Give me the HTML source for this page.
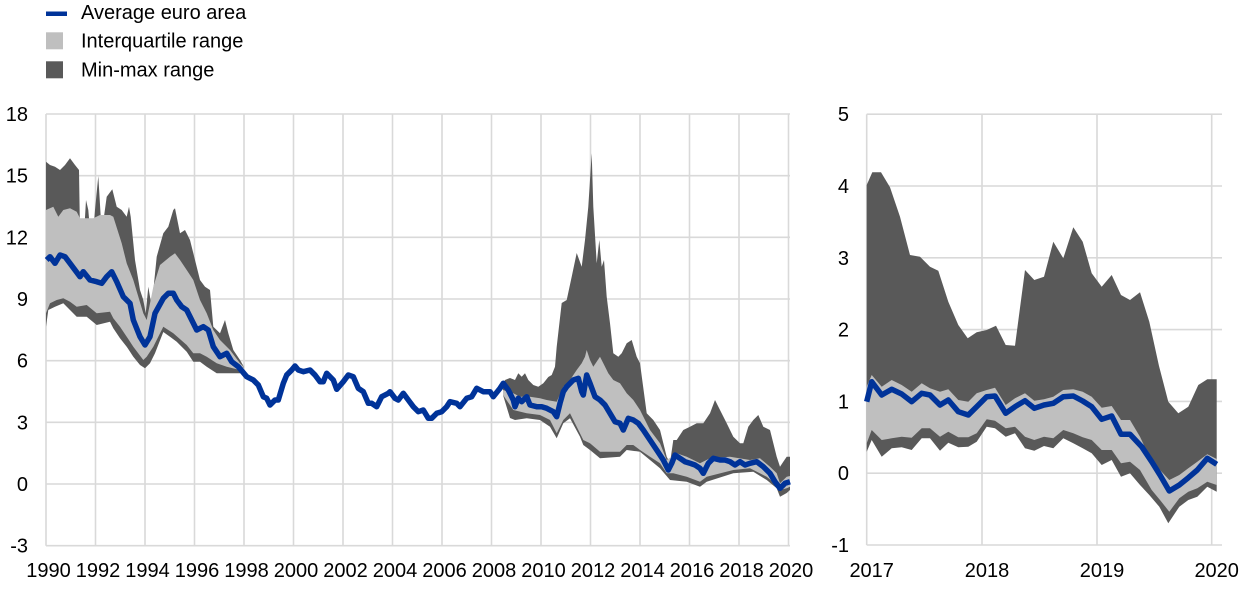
<!DOCTYPE html>
<html>
<head>
<meta charset="utf-8">
<style>
html,body{margin:0;padding:0;background:#fff;}
body{width:1240px;height:591px;overflow:hidden;}
svg{display:block;}
text{font-family:"Liberation Sans",Arial,sans-serif;font-size:20px;fill:#000;}
</style>
</head>
<body>
<svg width="1240" height="591" viewBox="0 0 1240 591" xmlns="http://www.w3.org/2000/svg">
<!-- Legend -->
<rect x="46" y="11.5" width="21" height="4.5" fill="#003399"/>
<text x="81" y="19">Average euro area</text>
<rect x="46" y="32.3" width="17" height="17" fill="#bfbfbf"/>
<text x="81" y="47.7">Interquartile range</text>
<rect x="46" y="61.3" width="17" height="17" fill="#595959"/>
<text x="81" y="76.7">Min-max range</text>

<!-- LEFT CHART GRID -->
<g stroke="#d9d9d9" stroke-width="1.6" fill="none">
<line x1="46" y1="114" x2="790" y2="114"/>
<line x1="46" y1="175.7" x2="790" y2="175.7"/>
<line x1="46" y1="237.3" x2="790" y2="237.3"/>
<line x1="46" y1="299" x2="790" y2="299"/>
<line x1="46" y1="360.7" x2="790" y2="360.7"/>
<line x1="46" y1="422.3" x2="790" y2="422.3"/>
<line x1="46" y1="484" x2="790" y2="484"/>
<line x1="46" y1="545.7" x2="790" y2="545.7"/>
<line x1="46" y1="114" x2="46" y2="545.7"/>
<line x1="95.5" y1="114" x2="95.5" y2="545.7"/>
<line x1="145" y1="114" x2="145" y2="545.7"/>
<line x1="194.5" y1="114" x2="194.5" y2="545.7"/>
<line x1="244" y1="114" x2="244" y2="545.7"/>
<line x1="293.5" y1="114" x2="293.5" y2="545.7"/>
<line x1="343" y1="114" x2="343" y2="545.7"/>
<line x1="392.5" y1="114" x2="392.5" y2="545.7"/>
<line x1="442" y1="114" x2="442" y2="545.7"/>
<line x1="491.5" y1="114" x2="491.5" y2="545.7"/>
<line x1="541" y1="114" x2="541" y2="545.7"/>
<line x1="590.5" y1="114" x2="590.5" y2="545.7"/>
<line x1="640" y1="114" x2="640" y2="545.7"/>
<line x1="689.5" y1="114" x2="689.5" y2="545.7"/>
<line x1="739" y1="114" x2="739" y2="545.7"/>
<line x1="788.5" y1="114" x2="788.5" y2="545.7"/>
</g>

<!-- LEFT CHART AREAS -->
<polygon fill="#595959" points="46,161.7 50,165 55,166.7 60,170 65,165 70,158.3 75,165 79,170 80,233.3 83.3,246.7 86,200 88.3,210 91.7,250 95,210 98.3,176 101.7,233.3 106.7,196.7 112.3,189.3 116.7,206.7 121.7,210 126.7,216.7 129,206.7 130.7,216.7 135,260 140,290 143.3,300 145.7,313.3 148.3,286.7 151.7,306.7 156.7,256.7 163.3,233.3 168.3,226.7 173.3,210 175,208.3 180,233.3 185,230 190,240 195,260 200,280 205,286.7 210,290 213.3,326.7 220,333.3 225,320 228.3,333.3 233.3,350 240,360 244,367 240,373.3 226.7,373.3 216.7,373.3 206.7,366.7 200,361.7 193.3,361.7 186.7,351.7 176.7,341.7 170,336.7 163.3,332 155,353.3 150,363.3 145,368.3 140,365 133.3,356.7 126.7,346.7 120,338.3 113.3,328.3 110,321.7 96.7,325 86.7,316.7 76.7,316.7 70,310 63.3,303.3 55,306.7 48.3,310 46,326.7"/>
<polygon fill="#bfbfbf" points="46,210 53.3,206.7 58.3,216.7 63.3,210 70,208.3 76.7,211.7 80,218.3 93.3,218.3 100,215 110,215 113.3,216.7 121.7,243.3 126.7,263.3 133.3,280 143.3,313.3 146.7,320 153.3,286.7 160,265 170,256.7 175,253.3 180,260 186.7,270 193.3,280 200,300 206.7,313.3 213.3,330 220,340 230,350 240,363.3 244,367 240,370 226.7,366.7 216.7,363.3 206.7,356.7 200,353.3 193.3,353.3 186.7,345 173.3,333.3 163.3,326.7 153.3,346.7 146.7,356.7 143.3,360 133.3,346.7 126.7,336.7 120,326.7 113.3,318.3 110,311.7 96.7,313.3 86.7,305 76.7,306.7 70,301.7 63.3,298.3 56.7,300 50,303.3 46,313.3"/>

<polygon fill="#595959" points="503,385 505,380 510,378 515,380 518.3,373.3 521.7,376.7 525,373.3 528.3,380 533.3,385 538.3,386.7 543.3,383.3 548.3,377 551.7,375 555,366.7 556.7,346.7 561.7,303 566.7,300 571.7,276.7 576.7,253 581.7,266.7 585,240 588.3,206.7 591.7,153.3 593.3,206.7 596.7,263.3 599.3,240 601.7,266.7 604,260 606.7,296.7 610,323.3 613.3,353.3 618.3,356.7 621.7,353.3 626.7,343.3 631.7,340 636.7,356.7 640,363.3 646.7,413.3 653.3,420 660,430 666.7,456.7 670,463 673.3,440 676.7,440 683.3,430 690,426.7 696.7,423.3 703.3,423.3 710,413.3 715,400 720,410 726.7,423.3 733.3,436.7 740,443.3 743.3,443.3 748.3,426.7 753.3,420 758.3,415 763.3,426.7 770,430 776.7,456.7 780,466.7 783.3,461.7 786.7,456.7 790,456.7 790,490 786.7,493 780,496.7 776.7,488.3 766.7,480 753.3,471.7 733.3,473.3 706.7,481.7 700,486.7 686.7,481.7 670,480 660,468.3 650,460 640,451.7 626.7,450 620,456.7 600,458.3 590,450 583.3,445 580,436.7 570,418.3 563.3,423.3 556.7,438.3 550,426.7 540,420 526.7,418.3 515,420 510,418 503,395"/>
<polygon fill="#bfbfbf" points="503,390 513.3,393.3 520,396.7 530,396.7 540,398.3 546.7,400 556.7,401.7 563.3,386.7 570,380 576.7,370 581.7,363.3 585,356.7 586.7,350 590,360 593.3,366.7 600,356.7 603.3,363.3 608.3,373.3 613.3,380 620,383.3 626.7,393.3 633.3,400 640,410 650,430 660,443.3 666.7,460 676.7,453.3 686.7,456.7 700,463.3 710,458.3 730,456.7 750,460 760,458.3 770,466.7 776.7,473.3 780,483.3 786.7,476.7 790,476 790,486.7 786.7,488.3 780,490 776.7,485 766.7,476.7 750,468.3 733.3,470 706.7,476.7 700,481.7 686.7,476.7 673.3,473.3 666.7,473.3 660,463.3 650,456.7 640,450 633.3,445 626.7,445 620,451.7 610,451.7 600,451.7 590,443.3 583.3,440 576.7,426.7 570,413.3 563.3,420 556.7,433.3 550,420 540,415 526.7,413.3 513.3,410 503,395"/>

<!-- LEFT AVERAGE LINE -->
<polyline fill="none" stroke="#003399" stroke-width="5.5" stroke-linejoin="round" points="46.7,260 50,256.7 55,263.3 60,255 65,256.7 70,263.3 80,276.7 83.3,271.7 90,280 96.7,281.7 101.7,283.3 106.7,276.7 111.7,271.7 116.7,281.7 123.3,296.7 130,303.3 133.3,320 140,336.7 145,345 150,336.7 155,313.3 163.3,298.3 168.3,293.3 173.3,293.3 176.7,300 181.7,306.7 186.7,310 191.7,320 196.7,330 203.3,326.7 208.3,330 213.3,346.7 220,356.7 226.7,353.3 231.7,361.7 238.3,366.7 246.7,376.7 253.3,380 258.3,385 263.3,396.7 266.7,398.3 270,405 275,400 278.3,400 283.3,383.3 286.7,375 291.7,370 295,366 298.3,370 303.3,371.7 310,370 315,375 320,381.7 323.3,381.7 326.7,373.3 333.3,380 336.7,389.3 343.3,381.7 348.3,375 353.3,376.7 358.3,388.3 363.3,391.7 368.3,403.3 371.7,403.3 376.7,406.7 381.7,396.7 388.3,393.3 390,391.7 395,398.3 398.3,400 403.3,393.3 408.3,400 413.3,406.7 418.3,411.7 423.3,410 428.3,418.3 431.7,418.3 436.7,413.3 441.7,411.7 446.7,406.7 450,401.7 456.7,403.3 460,406.7 466.7,398.3 471.7,396.7 476.7,388.3 483.3,391.7 490,391.7 493.3,396.7 500,388.3 503.3,383.3 508.3,390 513.3,400 515,406.7 518.3,398.3 521.7,401.7 526.7,396.7 530,405 536.7,406.7 541.7,406.7 546.7,408.3 553.3,411.7 556.7,416.7 560,403.3 563.3,391.7 566.7,386.7 573.3,380 578.3,378.3 581.7,391.7 583.3,395 586.7,375 590,383.3 595,396.7 600,400 605,405 610,413.3 615,421.7 620,423.3 623.3,430 628.3,418.3 633.3,420 638.3,423.3 643.3,430 650,440 656.7,450 663.3,460 668.3,470 671.7,463.3 675,455 680,458.3 685,461.7 690,463.3 695,465 700,468.3 703.3,473.3 708.3,463.3 713.3,458.3 720,460 725,460 730,461.7 735,465 740,461.7 745,465 750,463.3 756.7,461.7 763.3,466.7 770,473.3 775,481.7 780,488.3 785,483.3 790,481.7"/>

<!-- LEFT AXIS LABELS -->
<g text-anchor="end">
<text x="28" y="121">18</text>
<text x="28" y="182.7">15</text>
<text x="28" y="244.3">12</text>
<text x="28" y="306">9</text>
<text x="28" y="367.7">6</text>
<text x="28" y="429.3">3</text>
<text x="28" y="491">0</text>
<text x="28" y="552.7">-3</text>
</g>
<g text-anchor="middle">
<text x="48.5" y="577">1990</text>
<text x="98" y="577">1992</text>
<text x="147.5" y="577">1994</text>
<text x="197" y="577">1996</text>
<text x="246.5" y="577">1998</text>
<text x="296" y="577">2000</text>
<text x="345.5" y="577">2002</text>
<text x="395" y="577">2004</text>
<text x="444.5" y="577">2006</text>
<text x="494" y="577">2008</text>
<text x="543.5" y="577">2010</text>
<text x="593" y="577">2012</text>
<text x="642.5" y="577">2014</text>
<text x="692" y="577">2016</text>
<text x="741.5" y="577">2018</text>
<text x="791" y="577">2020</text>
</g>

<!-- RIGHT CHART GRID -->
<g stroke="#d9d9d9" stroke-width="1.6" fill="none">
<line x1="866.7" y1="114.2" x2="1222" y2="114.2"/>
<line x1="866.7" y1="186" x2="1222" y2="186"/>
<line x1="866.7" y1="257.8" x2="1222" y2="257.8"/>
<line x1="866.7" y1="329.6" x2="1222" y2="329.6"/>
<line x1="866.7" y1="401.4" x2="1222" y2="401.4"/>
<line x1="866.7" y1="473.2" x2="1222" y2="473.2"/>
<line x1="866.7" y1="545" x2="1222" y2="545"/>
<line x1="866.7" y1="114.2" x2="866.7" y2="545"/>
<line x1="982" y1="114.2" x2="982" y2="545"/>
<line x1="1097" y1="114.2" x2="1097" y2="545"/>
<line x1="1211.7" y1="114.2" x2="1211.7" y2="545"/>
</g>

<!-- RIGHT CHART AREAS -->
<polygon fill="#595959" points="866.7,185 872.3,172.3 881,172.3 890,187.3 900,216.7 910,255 920,256.7 930,266.7 938.3,270.7 948.3,301.7 958.3,325 967.7,338.3 976.7,332.3 986.7,330 996,325.7 1005.7,345 1015,345.7 1025,270 1034.3,280 1044,276.7 1053.3,241.7 1063.3,258.3 1073.3,227.3 1082.7,241.7 1091.7,273.3 1101.7,286.7 1111.7,275 1121,295 1130,300 1140,292.3 1149.3,321.7 1159,366 1168.3,401.7 1178.3,413.3 1188.3,406.7 1198.3,385 1207.3,379.3 1216.7,379.3 1216.7,491.7 1207.3,486.7 1197.3,496.7 1188.3,500 1179.3,506.7 1168.3,523.3 1159.3,506.7 1149.3,495 1140,485 1130,473.3 1121,476.7 1111.7,460 1101.7,465 1091.7,453.3 1082.7,448.3 1073.3,443.3 1063.3,438.3 1053.3,448.3 1044,446 1034.3,450.7 1025,448.3 1015,433.3 1005.7,436.7 995,428.3 986.7,426.7 976.7,441.7 968.3,446.7 958.3,447.3 948.3,442.7 940,450.7 930,438.3 921.7,438.3 911.7,450 901.7,447.3 891.7,448.3 881.7,456.7 871.7,440 866.7,451.7"/>
<polygon fill="#bfbfbf" points="866.7,386.7 871.7,375 881.7,386.7 891.7,380 901.7,385 911.7,391.7 921.7,383.3 930,388.3 940,391.7 948.3,389.3 958.3,400 968.3,401.7 976.7,393.3 986.7,390 995,387.7 1005.7,405 1015,398.3 1025,393.3 1034.3,400.7 1044,399.3 1053.3,396.7 1063.3,390 1073.3,389.3 1082.7,391.7 1091.7,396.7 1101.7,407.7 1111.7,406 1121,420 1130,420 1140,436.7 1149.3,456.7 1160,470 1169.3,480 1179.3,475 1188.3,468.3 1197.3,461.7 1207.3,454.3 1216.7,459 1216.7,485 1207.3,481.7 1197.3,488.3 1188.3,491.7 1179.3,498.3 1169.3,511.7 1160,500 1151.7,490 1140,470 1130,461.7 1121,463.3 1111.7,450 1101.7,450 1091.7,440 1082.7,437.3 1073.3,433.3 1063.3,430 1053.3,438.3 1044,436.7 1034.3,440 1025,436.7 1015,426.7 1005.7,428.3 995,420.7 986.7,419.3 976.7,433.3 968.3,437.3 958.3,437.3 948.3,431.7 940,436.7 930,428.3 921.7,428.3 911.7,437.7 901.7,436.7 891.7,438.3 881.7,440 871.7,430 866.7,443.3"/>

<!-- RIGHT AVERAGE LINE -->
<polyline fill="none" stroke="#003399" stroke-width="5.5" stroke-linejoin="round" points="866.7,401.7 871.7,381.7 881.7,395 891.7,389.3 901.7,394 911.7,401.7 921.7,393.3 930,395 940,405 948.3,400 958.3,411.7 968.3,415 976.7,406.7 986.7,396.7 995,396 1005.7,413.3 1015,406.7 1025,400.7 1034.3,408.3 1044,405 1053.3,403.3 1063.3,396.7 1073.3,396 1082.7,401 1091.7,406.7 1101.7,419.3 1111.7,416 1121,434.3 1130,434.3 1141.7,446.7 1151.7,461.7 1160,475 1169.3,491 1179.3,485 1188.3,477.7 1197.3,470 1207.3,458.3 1216.7,464.3"/>

<!-- RIGHT AXIS LABELS -->
<g text-anchor="end">
<text x="849" y="121.2">5</text>
<text x="849" y="193">4</text>
<text x="849" y="264.8">3</text>
<text x="849" y="336.6">2</text>
<text x="849" y="408.4">1</text>
<text x="849" y="480.2">0</text>
<text x="849" y="552">-1</text>
</g>
<g text-anchor="middle">
<text x="871.7" y="577">2017</text>
<text x="987" y="577">2018</text>
<text x="1102" y="577">2019</text>
<text x="1216.7" y="577">2020</text>
</g>
</svg>
</body>
</html>
